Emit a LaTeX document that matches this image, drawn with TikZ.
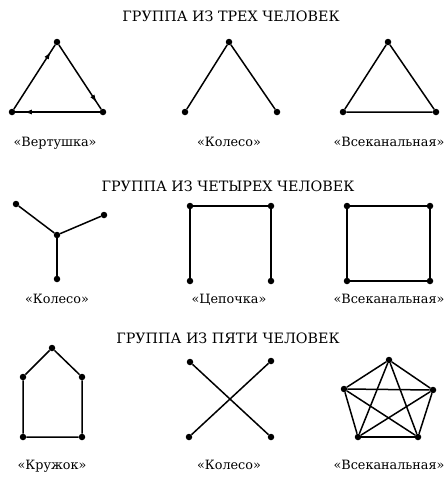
\documentclass[tikz,border=0pt]{standalone}
\usepackage{fontspec}
\setmainfont{DejaVu Serif}
\usetikzlibrary{arrows.meta,decorations.markings}

\begin{document}
\begin{tikzpicture}[x=1pt,y=-1pt,>={Latex[length=8pt,width=5pt]},dot/.style={circle, fill=black, inner sep=0pt, minimum size=6.5pt},link/.style={line width=1.5pt},flow/.style={link, decoration={markings, mark=at position 0.9 with {\arrow{>}}}, postaction={decorate}},heading/.style={font=\fontsize{14.3}{16}\selectfont},caption/.style={font=\fontsize{12.8}{14}\selectfont, text height=9.5pt, text depth=3.5pt}]
\useasboundingbox (0,0) rectangle (447,477);
% three people
\node[heading] (h3) at (231,16) {ГРУППА ИЗ ТРЕХ ЧЕЛОВЕК};
\node[dot] (ta) at (57,42) {};\node[dot] (tb) at (12,112) {};\node[dot] (tc) at (103,112) {};
\draw[flow] (tb) -- (ta);\draw[flow] (ta) -- (tc);\draw[flow] (tc) -- (tb);
\node[dot] (wa) at (229,42) {};\node[dot] (wb) at (185,112) {};\node[dot] (wc) at (277,112) {};
\draw[link] (wb) -- (wa) -- (wc);
\node[dot] (ka) at (388,42) {};\node[dot] (kb) at (343,112) {};\node[dot] (kc) at (436,112) {};
\draw[link] (ka) -- (kb) -- (kc) -- (ka);
\node[caption] (c3a) at (55,143) {«Вертушка»};\node[caption] (c3b) at (229,143) {«Колесо»};\node[caption] (c3c) at (389,143) {«Всеканальная»};
% four people
\node[heading] (h4) at (228,186) {ГРУППА ИЗ ЧЕТЫРЕХ ЧЕЛОВЕК};
\node[dot] (ya) at (16,204) {};\node[dot] (yb) at (104,215) {};\node[dot] (yc) at (57,235) {};\node[dot] (yd) at (57,279) {};
\draw[link] (ya) -- (yc) -- (yb);\draw[link] (yc) -- (yd);
\node[dot] (ca) at (190,206) {};\node[dot] (cb) at (271,206) {};\node[dot] (cc) at (190,281) {};\node[dot] (cd) at (271,281) {};
\draw[link] (cc) -- (ca) -- (cb) -- (cd);
\node[dot] (sa) at (347,206) {};\node[dot] (sb) at (430,206) {};\node[dot] (sc) at (347,281) {};\node[dot] (sd) at (430,281) {};
\draw[link] (sa) -- (sb) -- (sd) -- (sc) -- (sa);
\node[caption] (c4a) at (57,300) {«Колесо»};\node[caption] (c4b) at (229,300) {«Цепочка»};\node[caption] (c4c) at (389,300) {«Всеканальная»};
% five people
\node[heading] (h5) at (228,338) {ГРУППА ИЗ ПЯТИ ЧЕЛОВЕК};
\node[dot] (ra) at (52,348) {};\node[dot] (rb) at (23,377) {};\node[dot] (rc) at (82,377) {};\node[dot] (rd) at (23,437) {};\node[dot] (re) at (82,437) {};
\draw[link] (ra) -- (rc) -- (re) -- (rd) -- (rb) -- (ra);
\node[dot] (xa) at (190,362) {};\node[dot] (xb) at (271,361) {};\node[dot] (xc) at (189,437) {};\node[dot] (xd) at (271,437) {};
\draw[link] (xa) -- (xd);\draw[link] (xb) -- (xc);
\node[dot] (p1) at (389,360) {};\node[dot] (p2) at (344,389) {};\node[dot] (p3) at (433,390) {};\node[dot] (p4) at (358,437) {};\node[dot] (p5) at (418,437) {};
\foreach \a/\b in {1/2,1/3,1/4,1/5,2/3,2/4,2/5,3/4,3/5,4/5}\draw[link] (p\a) -- (p\b);
\node[caption] (c5a) at (52,466) {«Кружок»};\node[caption] (c5b) at (229,466) {«Колесо»};\node[caption] (c5c) at (389,466) {«Всеканальная»};
\end{tikzpicture}
\end{document}
